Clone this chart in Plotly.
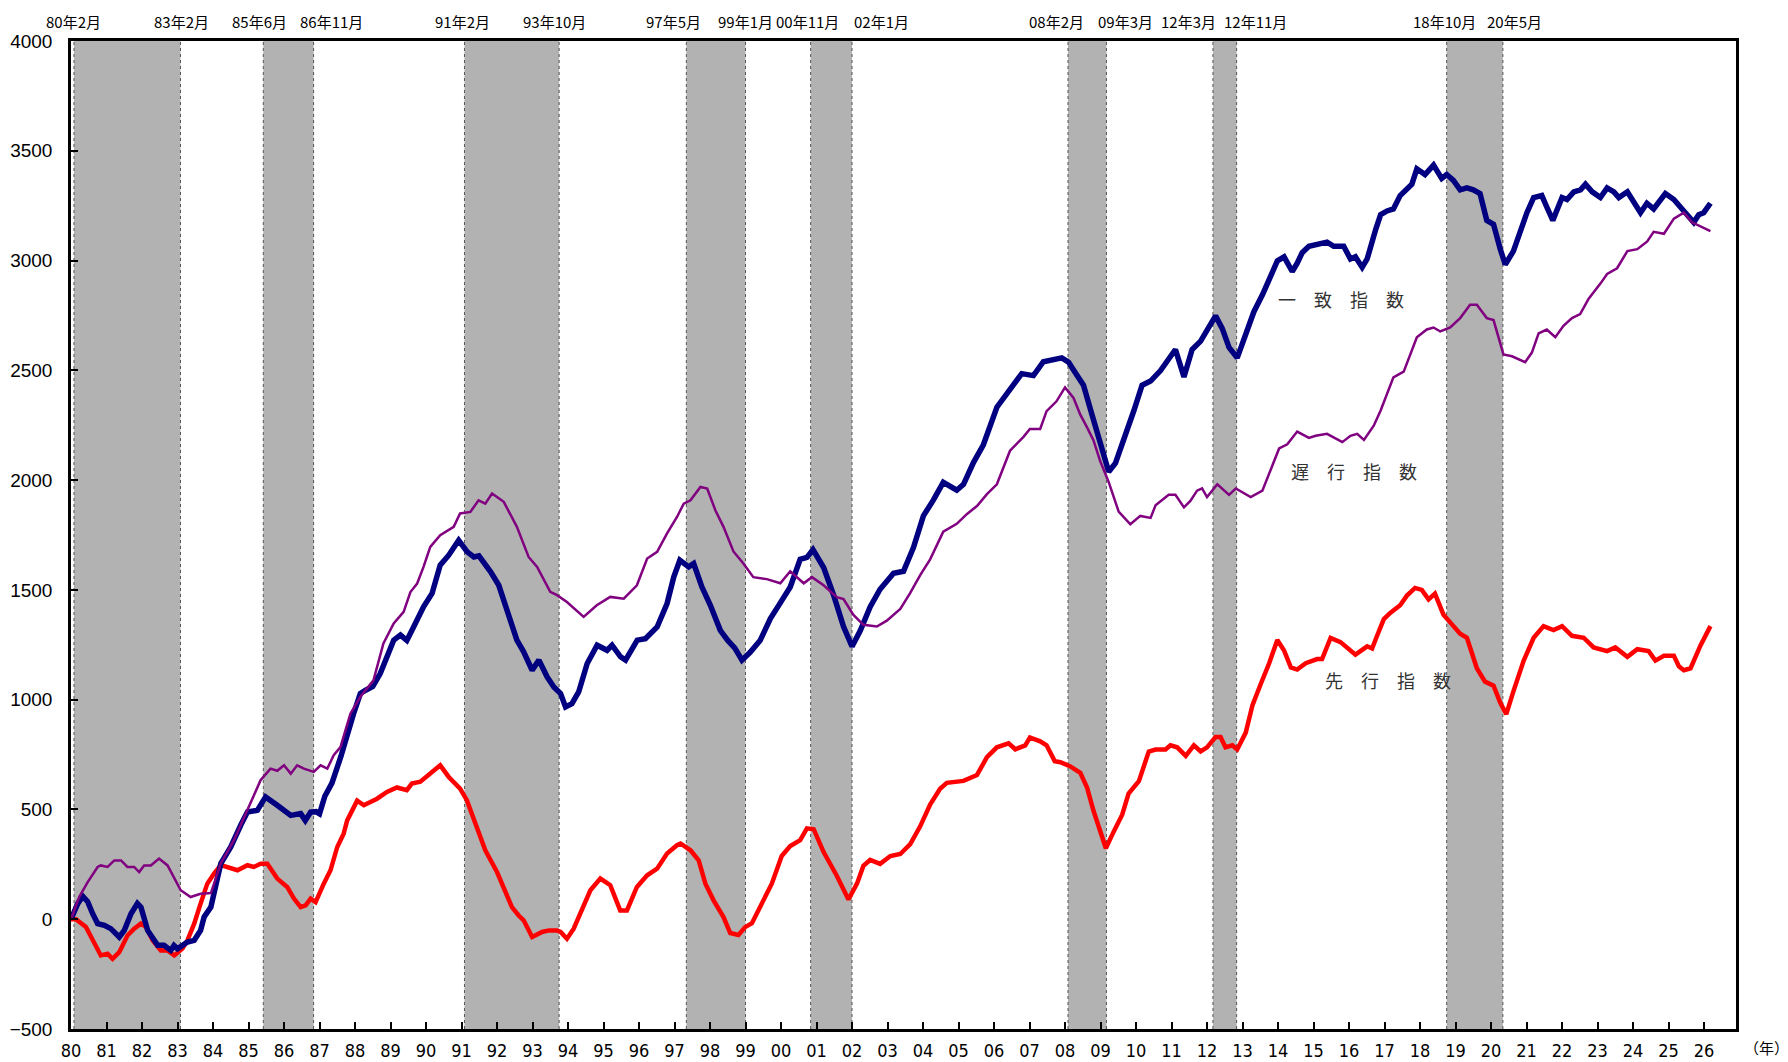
import plotly.graph_objects as go

# ---------------- data (decimal years, index values) ----------------
coin_t = [1980.00, 1980.19, 1980.33, 1980.47, 1980.61, 1980.75, 1980.94, 1981.12, 1981.36, 1981.50,
          1981.69, 1981.87, 1981.97, 1982.16, 1982.44, 1982.62, 1982.81, 1982.90, 1983.00, 1983.28,
          1983.47, 1983.65, 1983.75, 1983.94, 1984.22, 1984.50, 1984.78, 1984.97, 1985.25, 1985.48,
          1985.81, 1986.19, 1986.47, 1986.60, 1986.75, 1986.90, 1987.00, 1987.15, 1987.35, 1987.60,
          1987.96, 1988.15, 1988.30, 1988.50, 1988.71, 1989.09, 1989.28, 1989.46, 1989.65, 1989.93,
          1990.17, 1990.40, 1990.64, 1990.92, 1991.16, 1991.35, 1991.49, 1991.63, 1991.82, 1992.05,
          1992.33, 1992.56, 1992.75, 1992.99, 1993.18, 1993.41, 1993.60, 1993.79, 1993.93, 1994.11,
          1994.30, 1994.54, 1994.82, 1995.10, 1995.24, 1995.48, 1995.62, 1995.95, 1996.18, 1996.51,
          1996.79, 1996.98, 1997.15, 1997.40, 1997.54, 1997.77, 1998.01, 1998.29, 1998.50, 1998.70,
          1998.90, 1999.13, 1999.41, 1999.70, 1999.98, 2000.26, 2000.54, 2000.73, 2000.90, 2001.20,
          2001.48, 2001.76, 2002.00, 2002.23, 2002.51, 2002.79, 2003.17, 2003.45, 2003.73, 2004.01,
          2004.29, 2004.57, 2004.95, 2005.14, 2005.42, 2005.70, 2006.08, 2006.45, 2006.78, 2007.11,
          2007.39, 2007.91, 2008.10, 2008.29, 2008.52, 2008.76, 2008.99, 2009.23, 2009.42, 2009.66,
          2009.94, 2010.17, 2010.41, 2010.69, 2010.97, 2011.11, 2011.35, 2011.58, 2011.82, 2012.05,
          2012.24, 2012.43, 2012.62, 2012.85, 2013.09, 2013.32, 2013.56, 2013.79, 2013.98, 2014.17,
          2014.40, 2014.54, 2014.68, 2014.87, 2015.10, 2015.38, 2015.57, 2015.85, 2016.04, 2016.18,
          2016.37, 2016.51, 2016.75, 2016.89, 2017.07, 2017.25, 2017.44, 2017.63, 2017.77, 2017.91,
          2018.14, 2018.38, 2018.61, 2018.75, 2018.94, 2019.13, 2019.32, 2019.50, 2019.69, 2019.88,
          2020.07, 2020.26, 2020.40, 2020.63, 2020.82, 2021.01, 2021.20, 2021.43, 2021.57, 2021.74,
          2022.00, 2022.14, 2022.33, 2022.52, 2022.66, 2022.85, 2023.08, 2023.27, 2023.46, 2023.60,
          2023.84, 2024.02, 2024.21, 2024.39, 2024.58, 2024.91, 2025.15, 2025.43, 2025.71, 2025.85,
          2025.99, 2026.18]
coin_v = [0, 71, 105, 80, 25, -20, -28, -43, -81, -51,
          25, 72, 55, -51, -119, -119, -142, -120, -135, -104,
          -96, -51, 10, 55, 254, 329, 428, 488, 496, 557,
          519, 473, 481, 450, 488, 490, 480, 560, 620, 740,
          936, 1028, 1043, 1060, 1119, 1271, 1294, 1270, 1331, 1423,
          1484, 1613, 1658, 1726, 1673, 1650, 1655, 1628, 1582, 1521,
          1377, 1271, 1218, 1134, 1180, 1104, 1058, 1028, 967, 982,
          1035, 1165, 1248, 1225, 1248, 1195, 1180, 1271, 1278, 1331,
          1438, 1560, 1635, 1605, 1620, 1514, 1430, 1316, 1270, 1235,
          1180, 1216, 1269, 1369, 1441, 1513, 1639, 1648, 1683, 1602,
          1477, 1333, 1242, 1314, 1422, 1503, 1576, 1585, 1693, 1837,
          1909, 1990, 1954, 1981, 2080, 2161, 2332, 2413, 2485, 2476,
          2539, 2557, 2537, 2489, 2432, 2298, 2163, 2038, 2077, 2183,
          2317, 2432, 2451, 2499, 2566, 2595, 2470, 2595, 2633, 2690,
          2748, 2690, 2604, 2557, 2662, 2767, 2844, 2921, 2998, 3017,
          2950, 2988, 3036, 3065, 3074, 3084, 3065, 3065, 3007, 3017,
          2969, 3007, 3141, 3209, 3226, 3235, 3296, 3322, 3348, 3418,
          3392, 3435, 3374, 3392, 3365, 3322, 3331, 3322, 3305, 3183,
          3165, 3052, 2982, 3043, 3131, 3218, 3287, 3296, 3244, 3183,
          3287, 3278, 3313, 3322, 3348, 3313, 3287, 3331, 3313, 3287,
          3313, 3270, 3218, 3261, 3235, 3305, 3278, 3226, 3174, 3209,
          3218, 3261]

lag_t = [1980.00, 1980.23, 1980.47, 1980.75, 1980.84, 1981.03, 1981.22, 1981.41, 1981.59, 1981.78,
         1981.92, 1982.06, 1982.25, 1982.48, 1982.72, 1983.09, 1983.37, 1983.65, 1983.94, 1984.22,
         1984.59, 1984.97, 1985.34, 1985.62, 1985.81, 1986.00, 1986.19, 1986.37, 1986.56, 1986.84,
         1987.03, 1987.22, 1987.40, 1987.59, 1987.87, 1988.15, 1988.52, 1988.80, 1989.09, 1989.37,
         1989.56, 1989.75, 1989.93, 1990.12, 1990.40, 1990.78, 1990.96, 1991.25, 1991.48, 1991.67,
         1991.86, 1992.19, 1992.56, 1992.89, 1993.13, 1993.50, 1993.69, 1993.97, 1994.44, 1994.81,
         1995.19, 1995.57, 1995.94, 1996.23, 1996.51, 1996.79, 1997.07, 1997.26, 1997.45, 1997.73,
         1997.92, 1998.15, 1998.38, 1998.66, 1998.94, 1999.22, 1999.60, 1999.98, 2000.26, 2000.64,
         2000.87, 2001.20, 2001.57, 2001.76, 2002.04, 2002.32, 2002.70, 2002.98, 2003.36, 2003.64,
         2003.92, 2004.20, 2004.57, 2004.95, 2005.24, 2005.52, 2005.80, 2006.08, 2006.45, 2006.83,
         2007.01, 2007.30, 2007.48, 2007.76, 2008.00, 2008.24, 2008.43, 2008.62, 2008.80, 2008.99,
         2009.23, 2009.51, 2009.84, 2010.12, 2010.41, 2010.55, 2010.78, 2010.92, 2011.11, 2011.35,
         2011.53, 2011.72, 2011.86, 2012.00, 2012.29, 2012.62, 2012.81, 2013.23, 2013.56, 2013.79,
         2014.03, 2014.26, 2014.54, 2014.87, 2015.06, 2015.38, 2015.67, 2015.81, 2016.04, 2016.23,
         2016.42, 2016.70, 2016.89, 2017.07, 2017.25, 2017.54, 2017.72, 2017.91, 2018.19, 2018.38,
         2018.57, 2018.85, 2019.13, 2019.41, 2019.60, 2019.88, 2020.07, 2020.35, 2020.59, 2020.96,
         2021.15, 2021.34, 2021.57, 2021.81, 2022.04, 2022.28, 2022.51, 2022.75, 2023.08, 2023.27,
         2023.55, 2023.84, 2024.12, 2024.40, 2024.58, 2024.87, 2025.15, 2025.43, 2025.66, 2025.90,
         2026.18]
lag_v = [0, 101, 169, 238, 245, 238, 268, 268, 238, 238,
         215, 245, 245, 276, 245, 132, 101, 116, 119, 254,
         360, 496, 633, 686, 676, 701, 663, 701, 686, 671,
         701, 686, 747, 784, 936, 1013, 1088, 1256, 1347, 1400,
         1490, 1529, 1605, 1696, 1749, 1787, 1848, 1855, 1908, 1893,
         1939, 1901, 1787, 1650, 1605, 1491, 1476, 1445, 1377, 1430,
         1468, 1460, 1521, 1643, 1673, 1757, 1832, 1893, 1908, 1969,
         1962, 1863, 1787, 1675, 1620, 1558, 1549, 1530, 1585, 1530,
         1558, 1521, 1467, 1458, 1386, 1341, 1333, 1360, 1413, 1486,
         1567, 1639, 1765, 1801, 1846, 1882, 1936, 1981, 2134, 2197,
         2233, 2233, 2314, 2359, 2422, 2374, 2298, 2240, 2182, 2087,
         1991, 1857, 1799, 1837, 1828, 1885, 1914, 1933, 1933, 1876,
         1905, 1952, 1962, 1923, 1981, 1933, 1962, 1923, 1952, 2048,
         2144, 2163, 2221, 2192, 2202, 2211, 2183, 2173, 2202, 2211,
         2183, 2249, 2317, 2395, 2468, 2494, 2572, 2651, 2686, 2695,
         2677, 2695, 2738, 2799, 2799, 2738, 2729, 2572, 2564, 2537,
         2581, 2668, 2686, 2651, 2703, 2738, 2756, 2826, 2895, 2939,
         2965, 3043, 3052, 3087, 3131, 3122, 3191, 3218, 3174, 3157,
         3134]

lead_t = [1980.00, 1980.14, 1980.42, 1980.66, 1980.84, 1981.03, 1981.17, 1981.36, 1981.59, 1981.78,
          1981.97, 1982.11, 1982.30, 1982.53, 1982.72, 1982.91, 1983.14, 1983.28, 1983.47, 1983.65,
          1983.84, 1984.03, 1984.22, 1984.69, 1984.97, 1985.15, 1985.34, 1985.53, 1985.81, 1986.09,
          1986.28, 1986.47, 1986.61, 1986.75, 1986.89, 1987.12, 1987.31, 1987.50, 1987.68, 1987.78,
          1988.06, 1988.25, 1988.53, 1988.62, 1988.90, 1989.18, 1989.46, 1989.60, 1989.84, 1990.12,
          1990.40, 1990.64, 1990.96, 1991.15, 1991.43, 1991.67, 1992.00, 1992.28, 1992.42, 1992.61,
          1992.75, 1992.99, 1993.27, 1993.46, 1993.69, 1993.79, 1993.97, 1994.16, 1994.39, 1994.63,
          1994.91, 1995.19, 1995.47, 1995.66, 1995.94, 1996.23, 1996.51, 1996.79, 1997.07, 1997.17,
          1997.45, 1997.68, 1997.87, 1998.10, 1998.38, 1998.57, 1998.80, 1998.99, 1999.18, 1999.41,
          1999.74, 2000.02, 2000.26, 2000.54, 2000.73, 2000.92, 2001.20, 2001.57, 2001.90, 2002.14,
          2002.32, 2002.51, 2002.79, 2003.08, 2003.36, 2003.64, 2003.92, 2004.20, 2004.48, 2004.67,
          2005.14, 2005.52, 2005.80, 2006.08, 2006.41, 2006.60, 2006.88, 2007.01, 2007.30, 2007.48,
          2007.71, 2007.87, 2008.15, 2008.43, 2008.62, 2008.80, 2008.99, 2009.15, 2009.37, 2009.61,
          2009.79, 2010.08, 2010.36, 2010.55, 2010.83, 2010.97, 2011.16, 2011.40, 2011.63, 2011.82,
          2012.00, 2012.24, 2012.38, 2012.52, 2012.71, 2012.85, 2013.09, 2013.28, 2013.51, 2013.75,
          2013.98, 2014.17, 2014.36, 2014.54, 2014.78, 2015.10, 2015.24, 2015.48, 2015.76, 2016.18,
          2016.51, 2016.65, 2016.79, 2016.98, 2017.16, 2017.44, 2017.63, 2017.86, 2018.05, 2018.24,
          2018.42, 2018.66, 2018.85, 2019.13, 2019.32, 2019.60, 2019.83, 2020.07, 2020.26, 2020.43,
          2020.63, 2020.92, 2021.20, 2021.48, 2021.76, 2022.00, 2022.28, 2022.61, 2022.89, 2023.27,
          2023.50, 2023.84, 2024.12, 2024.44, 2024.63, 2024.87, 2025.15, 2025.29, 2025.43, 2025.62,
          2025.90, 2026.18]
lead_v = [0, 0, -35, -111, -165, -157, -180, -150, -74, -43,
          -20, -35, -96, -142, -142, -165, -134, -96, -20, 71,
          162, 208, 246, 223, 246, 238, 253, 253, 185, 147,
          94, 55, 63, 94, 78, 162, 223, 329, 390, 450,
          540, 519, 542, 549, 580, 600, 588, 618, 626, 663,
          701, 648, 595, 542, 420, 314, 215, 101, 55, 17,
          -5, -81, -58, -51, -51, -58, -89, -43, 48, 132,
          185, 155, 40, 40, 147, 200, 230, 299, 337, 345,
          314, 268, 162, 86, 10, -63, -72, -36, -18, 54,
          162, 288, 333, 360, 414, 410, 306, 198, 90, 162,
          243, 270, 252, 288, 297, 342, 423, 522, 594, 621,
          630, 657, 738, 783, 801, 774, 792, 828, 810, 792,
          720, 715, 696, 667, 600, 495, 399, 323, 399, 476,
          572, 629, 764, 773, 773, 792, 783, 744, 792, 764,
          783, 830, 830, 783, 792, 773, 850, 975, 1070, 1166,
          1272, 1224, 1147, 1137, 1166, 1185, 1185, 1281, 1262, 1205,
          1243, 1233, 1291, 1367, 1395, 1430, 1474, 1509, 1500, 1457,
          1483, 1387, 1352, 1300, 1282, 1143, 1082, 1064, 986, 934,
          1038, 1178, 1282, 1335, 1317, 1335, 1291, 1282, 1238, 1221,
          1238, 1195, 1230, 1221, 1178, 1200, 1200, 1152, 1134, 1143,
          1247, 1335]

# recessions (景気後退期): start / end year and month
rec_start_year = [1980, 1985, 1991, 1997, 2000, 2008, 2012, 2018]
rec_start_month = [2, 6, 2, 5, 11, 2, 3, 10]
rec_end_year = [1983, 1986, 1993, 1999, 2002, 2009, 2012, 2020]
rec_end_month = [2, 11, 10, 1, 1, 3, 11, 5]

years = list(range(1980, 2027))
tick_text = [f"{y % 100:02d}" for y in years]

series_names = ["一　致　指　数", "遅　行　指　数", "先　行　指　数"]
label_pos_t = [2015.78, 2016.15, 2017.10]
label_pos_v = [2825, 2041, 1090]

# ---------------- figure ----------------
fig = go.Figure()

def ym(y, m):
    return y + (m - 1) / 12.0

shapes = []
annotations = []
label_shift = [0, 1, -4, 18, -2, -5, -13, 0, -3, 29, -11, 19, -24, 19, -2, 12]
edges = []
for sy, sm, ey, em in zip(rec_start_year, rec_start_month, rec_end_year, rec_end_month):
    x0, x1 = ym(sy, sm), ym(ey, em)
    shapes.append(dict(type="rect", xref="x", yref="paper", x0=x0, x1=x1, y0=0, y1=1,
                       fillcolor="#b2b2b2", line=dict(width=0), layer="below"))
    for xx in (x0, x1):
        shapes.append(dict(type="line", xref="x", yref="paper", x0=xx, x1=xx, y0=0, y1=1,
                           line=dict(color="#555555", width=1, dash="dot"), layer="below"))
    edges.append((x0, f"{sy % 100:02d}年{sm}月"))
    edges.append((x1, f"{ey % 100:02d}年{em}月"))

for (xx, txt), dx in zip(edges, label_shift):
    annotations.append(dict(x=xx, y=1, xref="x", yref="paper", text=txt, showarrow=False,
                            xanchor="center", yanchor="middle", yshift=20, xshift=dx,
                            font=dict(family="Noto Sans CJK JP", size=15, color="#000")))

fig.add_trace(go.Scatter(x=lead_t, y=lead_v, mode="lines", name="先行指数",
                         line=dict(color="#ff0000", width=4.5)))
fig.add_trace(go.Scatter(x=coin_t, y=coin_v, mode="lines", name="一致指数",
                         line=dict(color="#000080", width=5.5)))
fig.add_trace(go.Scatter(x=lag_t, y=lag_v, mode="lines", name="遅行指数",
                         line=dict(color="#800080", width=2.5)))

for name, xt, yv in zip(series_names, label_pos_t, label_pos_v):
    annotations.append(dict(x=xt, y=yv, xref="x", yref="y", text=name, showarrow=False,
                            xanchor="center", yanchor="middle",
                            font=dict(family="Noto Sans CJK JP", size=18, color="#333")))

annotations.append(dict(x=1, y=0, xref="paper", yref="paper", text="（年）", showarrow=False,
                        xanchor="center", yanchor="middle", xshift=30, yshift=-18,
                        font=dict(family="Noto Sans CJK JP", size=15, color="#000")))

# page body has an 8px margin: size the figure so the plot area lands where the reference has it
fig.update_layout(
    width=1780, height=1054,
    margin=dict(l=63, r=52, t=33, b=33),
    paper_bgcolor="white", plot_bgcolor="white",
    showlegend=False,
    shapes=shapes, annotations=annotations,
    xaxis=dict(range=[1980, 2026.9], tickvals=years, ticktext=tick_text,
               ticks="inside", ticklen=7, tickwidth=1.5, tickcolor="#000",
               showline=True, linewidth=2.5, linecolor="#000", mirror=True,
               showgrid=False, zeroline=False, ticklabelstandoff=4, automargin=False,
               tickfont=dict(family="Liberation Sans Narrow, DejaVu Sans Condensed, Arial", size=18, color="#000")),
    yaxis=dict(range=[-500, 4000], dtick=500, tick0=0,
               ticks="inside", ticklen=7, tickwidth=1.5, tickcolor="#000",
               showline=True, linewidth=2.5, linecolor="#000", mirror=True,
               showgrid=False, zeroline=False, ticklabelstandoff=12, automargin=False,
               tickfont=dict(family="Liberation Sans, Arial", size=19, color="#000")),
)

fig.write_html("out.html")
